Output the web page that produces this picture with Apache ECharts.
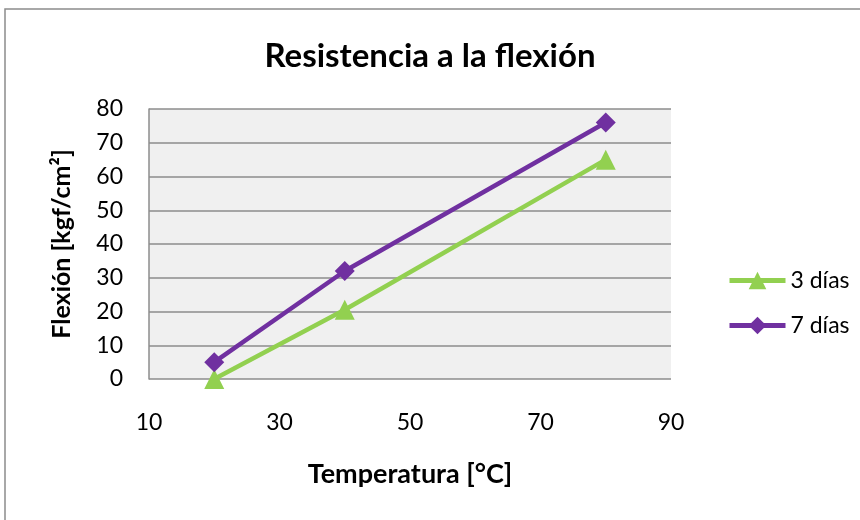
<!DOCTYPE html>
<html>
<head>
<meta charset="utf-8">
<script src="https://cdn.jsdelivr.net/npm/echarts@6/dist/echarts.min.js"></script>
<style>
  html, body { margin: 0; padding: 0; background: #fff; }
  #chart { width: 860px; height: 520px; }
</style>
</head>
<body>
<div id="chart"></div>
<script>
  // datos
  const temperaturas = [20, 40, 80]
  const dias3 = [0, 20.5, 65]
  const dias7 = [5, 32, 76]
  const nombres = ['3 días', '7 días']

  const toPairs = (xs, ys) => xs.map((x, i) => [x, ys[i]])
  const font = 'Lato, "Open Sans", sans-serif'

  const chart = echarts.init(document.getElementById('chart'))
  chart.setOption({
    animation: false,
    textStyle: { fontFamily: font },
    graphic: [{
      type: 'rect',
      shape: { x: 5, y: 9, width: 900, height: 600 },
      style: { fill: 'none', stroke: '#8c8c8c', lineWidth: 1.5 },
      silent: true
    }],
    title: {
      text: 'Resistencia a la flexión',
      left: 'center',
      top: 35,
      textStyle: { fontSize: 33, fontWeight: 'bold', color: '#000', fontFamily: font }
    },
    grid: {
      left: 149,
      right: 189,
      top: 109,
      bottom: 141,
      show: true,
      backgroundColor: '#f0f0f0',
      borderWidth: 0
    },
    legend: {
      orient: 'vertical',
      left: 722,
      top: 264,
      itemWidth: 56,
      itemHeight: 22,
      itemGap: 22,
      lineStyle: { width: 5 },
      textStyle: { fontSize: 23, color: '#000', fontFamily: font },
      data: nombres
    },
    xAxis: {
      type: 'value',
      min: 10,
      max: 90,
      interval: 20,
      name: 'Temperatura [°C]',
      nameLocation: 'middle',
      nameGap: 82,
      nameTextStyle: { fontSize: 27, fontWeight: 'bold', color: '#000' },
      axisLine: { show: false },
      axisTick: { show: false },
      splitLine: { show: false },
      axisLabel: { fontSize: 23, color: '#000', margin: 32 }
    },
    yAxis: {
      type: 'value',
      min: 0,
      max: 80,
      interval: 10,
      name: 'Flexión [kgf/cm²]',
      nameLocation: 'middle',
      nameGap: 75,
      nameTextStyle: { fontSize: 25, fontWeight: 'bold', color: '#000' },
      axisLine: { show: true, lineStyle: { color: '#8c8c8c', width: 1.5 } },
      axisTick: { show: false },
      splitLine: { show: true, lineStyle: { color: '#8c8c8c', width: 1.5 } },
      axisLabel: { fontSize: 23, color: '#000', margin: 26 }
    },
    series: [
      {
        name: nombres[0],
        type: 'line',
        data: toPairs(temperaturas, dias3),
        symbol: 'triangle',
        symbolSize: 20,
        color: '#92d050',
        lineStyle: { width: 4.5, color: '#92d050' },
        itemStyle: { color: '#92d050' }
      },
      {
        name: nombres[1],
        type: 'line',
        data: toPairs(temperaturas, dias7),
        symbol: 'diamond',
        symbolSize: 20,
        color: '#7030a0',
        lineStyle: { width: 4.5, color: '#7030a0' },
        itemStyle: { color: '#7030a0' }
      }
    ]
  })
</script>
</body>
</html>
